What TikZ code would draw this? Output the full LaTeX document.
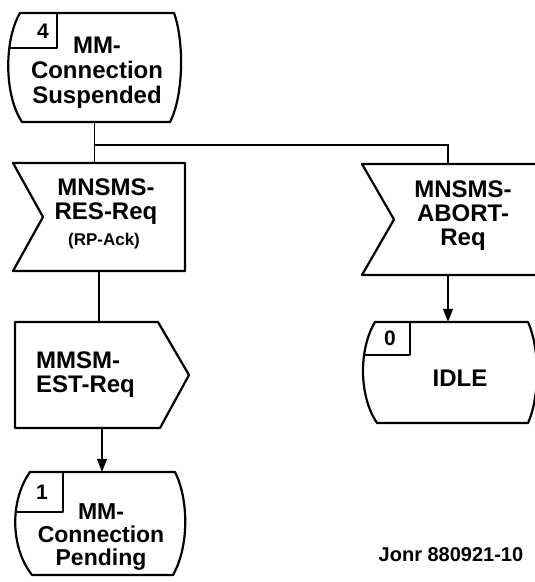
\documentclass[tikz,border=0pt]{standalone}
\usepackage{fontspec}
\setmainfont{Liberation Sans}
\usetikzlibrary{arrows.meta,calc}
\begin{document}
\begin{tikzpicture}[x=1pt,y=-1pt,
  outline/.style={line width=2.2pt, line join=round},
  conn/.style={line width=1.5pt},
  arr/.style={conn,-{Triangle[length=13pt,width=10pt]}},
  txt/.style={font=\bfseries\fontsize{24}{25}\selectfont, align=center, inner sep=0pt},
  small/.style={font=\bfseries\fontsize{17}{17}\selectfont, inner sep=0pt},
  num/.style={font=\bfseries\fontsize{21}{21}\selectfont, inner sep=0pt},
  frame/.style={draw=none, inner sep=0pt, rectangle}
]
\useasboundingbox (0,0) rectangle (535,582);
\fill[white] (0,0) rectangle (535,582);

% invisible frames of the symbols (for connectors)
\node[frame, minimum width=173pt, minimum height=109pt] (s4) at (94.5,67.5) {};
\node[frame, minimum width=172pt, minimum height=108pt] (res) at (99,217) {};
\node[frame, minimum width=174pt, minimum height=106pt] (est) at (102,375) {};
\node[frame, minimum width=170pt, minimum height=103pt] (s1) at (100,523.5) {};
\node[frame, minimum width=172pt, minimum height=111pt] (abort) at (448,219.5) {};
\node[frame, minimum width=172pt, minimum height=101pt] (idle) at (448,372.5) {};

% state 4
\draw[outline] (20,13) -- (174,13) .. controls (184,40) and (184,95) .. (170,122) -- (22,122) .. controls (4,95) and (4,40) .. cycle;
\draw[outline] (9.5,48) -- (57,48) -- (57,13);
\node[num] (n4) at (43,31) {4};
\node[txt] (s4t) at (97,73) {MM-\\Connection\\Suspended};

% input RES-Req
\draw[outline] (13,163) -- (185,163) -- (185,271) -- (13,271) -- (43,217) -- cycle;
\node[txt, font=\bfseries\fontsize{24}{24}\selectfont] (rest) at (106,202) {MNSMS-\\RES-Req};
\node[small] (rpack) at (104,241) {(RP-Ack)};

% input ABORT-Req
\draw[outline] (362,164) -- (540,164) -- (540,275) -- (362,275) -- (394,219.5) -- cycle;
\node[txt, font=\bfseries\fontsize{24}{24}\selectfont] (abortt) at (463,216) {MNSMS-\\ABORT-\\Req};

% output EST-Req
\draw[outline] (15,322) -- (158,322) -- (189,375) -- (160,428) -- (15,428) -- cycle;
\node[txt, align=left, anchor=west, font=\bfseries\fontsize{24}{24}\selectfont] (estt) at (36,374.5) {MMSM-\\EST-Req};

% state 1
\draw[outline] (30,472) -- (175,472) .. controls (189,500) and (189,547) .. (173,575) -- (32,575) .. controls (10,547) and (10,500) .. cycle;
\draw[outline] (16,512) -- (63,512) -- (63,472);
\node[num] (n1) at (42,492) {1};
\node[txt, font=\bfseries\fontsize{23}{23}\selectfont] (s1t) at (101,537) {MM-\\Connection\\Pending};

% state 0 IDLE
\draw[outline] (375,322) -- (528,322) .. controls (540,349) and (540,396) .. (528,423) -- (377,423) .. controls (358.7,396) and (358.7,349) .. cycle;
\draw[outline] (365,355) -- (410,355) -- (410,322);
\node[num] (n0) at (390,338) {0};
\node[txt] (idlet) at (460,378) {IDLE};

% connectors
\draw[conn] (s4.south) -- (s4.south |- res.north);
\draw[conn] (s4.south |- 0,145) -| (abort.north);
\draw[conn] (res.south) -- (res.south |- est.north);
\draw[arr] (est.south) -- (est.south |- s1.north);
\draw[arr] (abort.south) -- (abort.south |- idle.north);

% reference
\node[font=\bfseries\fontsize{20}{20}\selectfont, inner sep=0pt] (ref) at (451,555) {Jonr 880921-10};
\end{tikzpicture}
\end{document}
